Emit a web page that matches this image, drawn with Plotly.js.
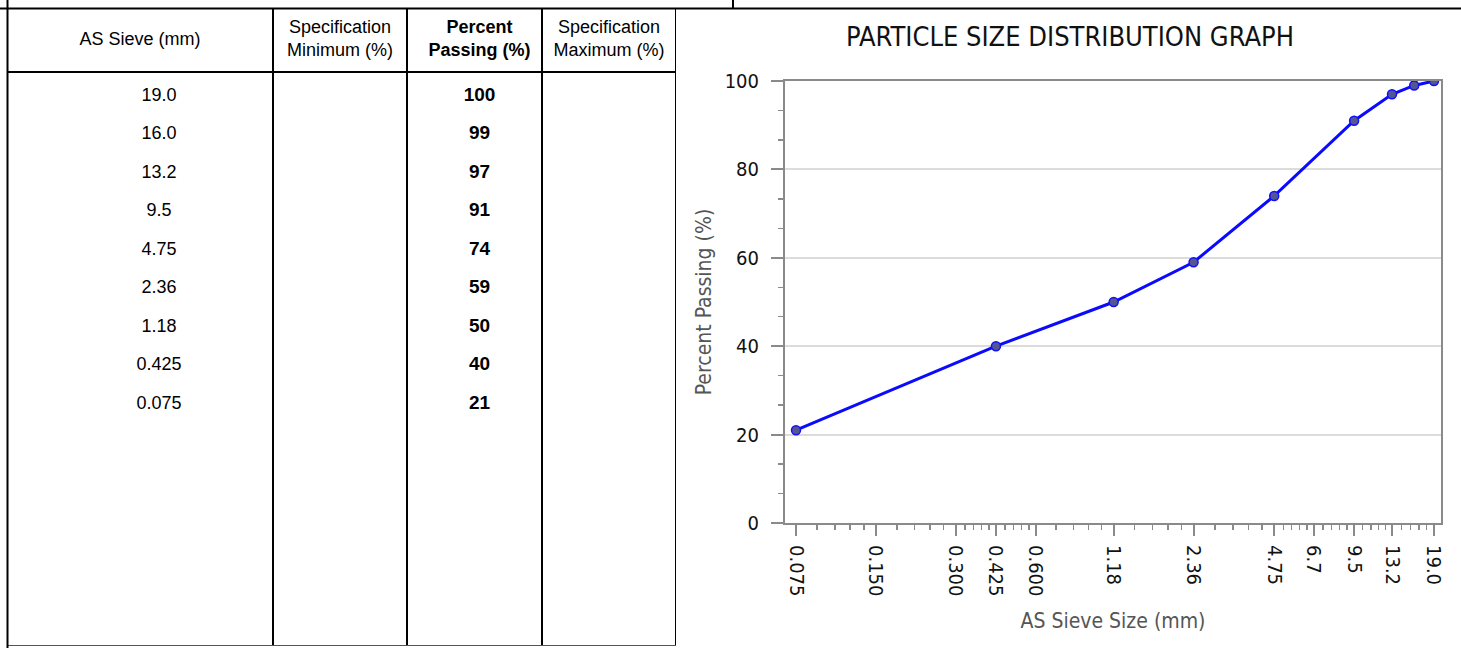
<!DOCTYPE html>
<html><head><meta charset="utf-8">
<script src="https://cdn.plot.ly/plotly-3.0.1.min.js"></script>
<style>html,body{margin:0;padding:0;background:#fff;} #chart{width:1461px;height:648px;}</style>
</head><body><div id="chart"></div>
<script>
// ---- data ----
const sieveSizes = [19.0, 16.0, 13.2, 9.5, 4.75, 2.36, 1.18, 0.425, 0.075];
const sieveLabels = ["19.0", "16.0", "13.2", "9.5", "4.75", "2.36", "1.18", "0.425", "0.075"];
const percentPassing = [100, 99, 97, 91, 74, 59, 50, 40, 21];
const specMinimum = ["", "", "", "", "", "", "", "", ""];
const specMaximum = ["", "", "", "", "", "", "", "", ""];
const tableHeaders = ["AS Sieve (mm)", "Specification<br>Minimum (%)", "Percent<br>Passing (%)", "Specification<br>Maximum (%)"];
const xTickVals = [0.075, 0.150, 0.300, 0.425, 0.600, 1.18, 2.36, 4.75, 6.7, 9.5, 13.2, 19.0];
const xTickText = ["0.075", "0.150", "0.300", "0.425", "0.600", "1.18", "2.36", "4.75", "6.7", "9.5", "13.2", "19.0"];
const yTickVals = [0, 20, 40, 60, 80, 100];
const chartTitle = "PARTICLE SIZE DISTRIBUTION GRAPH";
const xTitle = "AS Sieve Size (mm)";
const yTitle = "Percent Passing (%)";

// ---- layout helpers (styling only) ----
const W = 1461, H = 648;
const colWidths = [266, 134, 135, 134];
const colEdges = [0]; colWidths.forEach(w => colEdges.push(colEdges[colEdges.length - 1] + w));
const colCenters = colWidths.map((w, i) => colEdges[i] + w / 2);
const tableH = 638, headerH = 64, rowH = 38.5, firstRowCenter = 88;
const rowY = sieveLabels.map((_, i) => firstRowCenter + rowH * i);
const sieveTextX = 152;           // centre of sieve-size text inside column 1
const passingTextX = colCenters[2] + 5;

// minor ticks: 4 evenly spaced values between consecutive labelled sieves
const xMinor = [];
for (let i = 0; i < xTickVals.length - 1; i++) {
  const a = xTickVals[i], b = xTickVals[i + 1];
  for (let k = 1; k < 5; k++) xMinor.push(a + (b - a) * k / 5);
}

const tableFont = "Liberation Sans, Arial, sans-serif";
const chartFont = "DejaVu Sans Condensed, DejaVu Sans, sans-serif";

function textTrace(x, y, text, font, pos) {
  return {type: 'scatter', mode: 'text', x: x, y: y, text: text, textposition: pos || 'middle center',
    textfont: font, xaxis: 'x2', yaxis: 'y2', hoverinfo: 'skip', showlegend: false, cliponaxis: false};
}
const rep = (v, n) => Array(n).fill(v);
const headerX = colCenters.slice(); headerX[2] = passingTextX;

const traces = [
  textTrace(headerX, rep(headerH / 2, 4), tableHeaders.map((t, i) => i === 2 ? t.split('<br>').map(s => '<b>' + s + '</b>').join('<br>') : t),
    {family: tableFont, size: 18, color: '#000'}),
  textTrace(rep(sieveTextX, sieveLabels.length), rowY, sieveLabels, {family: tableFont, size: 18, color: '#000'}),
  textTrace(rep(colCenters[1], specMinimum.length), rowY, specMinimum, {family: tableFont, size: 18, color: '#000'}),
  textTrace(rep(passingTextX, percentPassing.length), rowY, percentPassing.map(String), {family: tableFont, size: 19, color: '#000', weight: 'bold'}),
  textTrace(rep(colCenters[3], specMaximum.length), rowY, specMaximum, {family: tableFont, size: 18, color: '#000'}),
  {
    type: 'scatter', mode: 'lines+markers', x: sieveSizes, y: percentPassing,
    line: {color: '#0a0aff', width: 3},
    marker: {size: 9, color: '#55558f', line: {color: '#1010ff', width: 1.5}},
    showlegend: false, hoverinfo: 'x+y'
  }
];

const shapes = [];
colEdges.forEach((e, i) => {
  if (i === 0) return;
  shapes.push({type: 'line', xref: 'x2', yref: 'y2', x0: e, x1: e, y0: 0, y1: tableH, line: {color: '#000', width: 2}});
});
shapes.push({type: 'line', xref: 'x2', yref: 'y2', x0: 0, x1: colEdges[4], y0: headerH, y1: headerH, line: {color: '#000', width: 2}});
shapes.push({type: 'line', xref: 'x2', yref: 'y2', x0: 0, x1: colEdges[4], y0: tableH, y1: tableH, line: {color: '#555', width: 2}});
// form frame pieces
shapes.push({type: 'line', xref: 'paper', yref: 'paper', x0: 0, x1: 1, y0: 1 - 8.5 / H, y1: 1 - 8.5 / H, line: {color: '#000', width: 2}});
shapes.push({type: 'line', xref: 'paper', yref: 'paper', x0: 7.5 / W, x1: 7.5 / W, y0: 0, y1: 1, line: {color: '#000', width: 2}});
shapes.push({type: 'line', xref: 'paper', yref: 'paper', x0: 733 / W, x1: 733 / W, y0: 1 - 8.5 / H, y1: 1, line: {color: '#000', width: 2}});

const axisGrey = '#8a8a8a';
const layout = {
  width: W, height: H,
  margin: {l: 0, r: 0, t: 0, b: 0},
  paper_bgcolor: '#fff', plot_bgcolor: '#fff',
  showlegend: false,
  title: {text: chartTitle, x: 1070 / W, xanchor: 'center', y: 1 - 37 / H, yanchor: 'middle', xref: 'paper', yref: 'paper',
    font: {family: chartFont, size: 27, color: '#111'}},
  xaxis: {
    type: 'log', domain: [785 / W, 1441 / W],
    range: [Math.log10(0.075) - 0.0415, Math.log10(19) + 0.0264],
    tickmode: 'array', tickvals: xTickVals, ticktext: xTickText, tickangle: 90,
    ticks: 'outside', ticklen: 11, tickwidth: 2, tickcolor: axisGrey, ticklabelstandoff: 5,
    tickfont: {family: chartFont, size: 20, color: '#111'},
    minor: {tickmode: 'array', tickvals: xMinor, ticks: 'outside', ticklen: 5, tickwidth: 1.5, tickcolor: axisGrey, showgrid: false},
    showline: true, linecolor: axisGrey, linewidth: 2, mirror: true, showgrid: false, zeroline: false,
    title: {text: xTitle, font: {family: chartFont, size: 21, color: '#555'}, standoff: 18},
    fixedrange: true
  },
  yaxis: {
    domain: [(H - 523) / H, (H - 81) / H], range: [0, 100],
    tickmode: 'array', tickvals: yTickVals,
    ticks: 'outside', ticklen: 12, tickwidth: 2, tickcolor: axisGrey, ticklabelstandoff: 8,
    tickfont: {family: chartFont, size: 20, color: '#111'},
    minor: {dtick: 20 / 3, tick0: 0, ticks: 'outside', ticklen: 5, tickwidth: 1.5, tickcolor: axisGrey, showgrid: false},
    showline: true, linecolor: axisGrey, linewidth: 2, mirror: true,
    showgrid: true, gridcolor: '#dcdcdc', gridwidth: 2, zeroline: false,
    title: {text: yTitle, font: {family: chartFont, size: 21, color: '#555'}, standoff: 7},
    fixedrange: true
  },
  xaxis2: {domain: [7 / W, 676 / W], range: [0, colEdges[4]], visible: false, fixedrange: true, anchor: 'y2'},
  yaxis2: {domain: [(H - 646) / H, (H - 8) / H], range: [tableH, 0], visible: false, fixedrange: true, anchor: 'x2'},
  shapes: shapes
};

Plotly.newPlot('chart', traces, layout, {displayModeBar: false, staticPlot: true});
</script>
</body></html>
